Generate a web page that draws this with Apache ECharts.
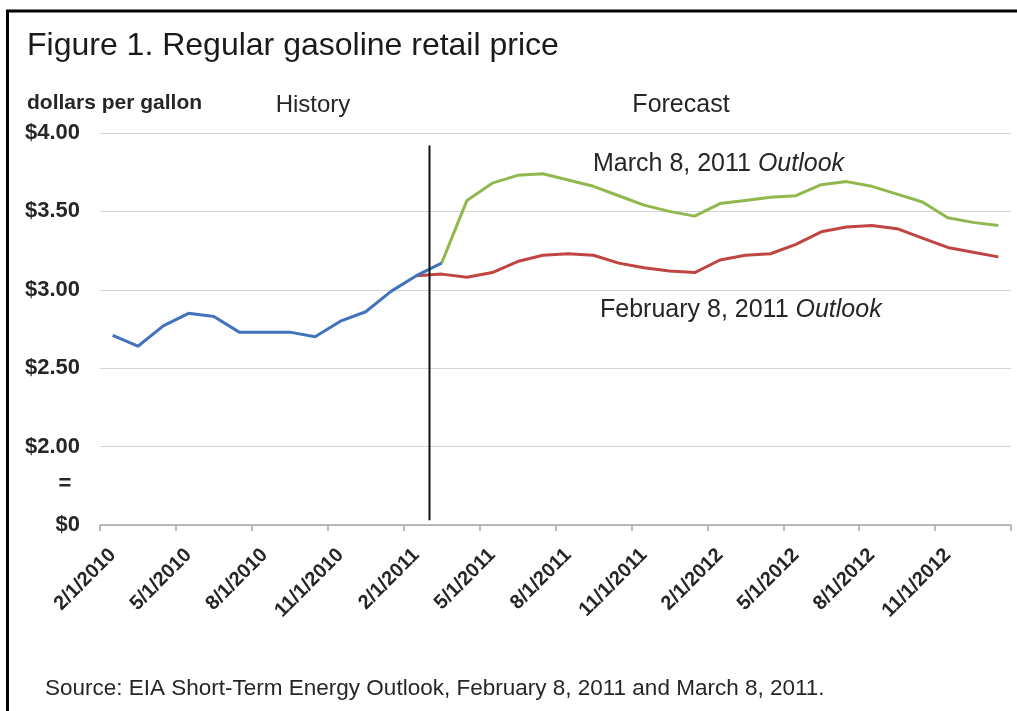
<!DOCTYPE html>
<html>
<head>
<meta charset="utf-8">
<script src="https://cdn.jsdelivr.net/npm/echarts@6/dist/echarts.min.js"></script>
<style>
html,body{margin:0;padding:0;background:#fff;}
#chart{width:1017px;height:711px;}
</style>
</head>
<body>
<div id="chart"></div>
<script>
// Monthly categories (Feb 2010 – Jan 2013)
const months = [
  "2/1/2010","3/1/2010","4/1/2010","5/1/2010","6/1/2010","7/1/2010","8/1/2010","9/1/2010","10/1/2010","11/1/2010","12/1/2010","1/1/2011",
  "2/1/2011","3/1/2011","4/1/2011","5/1/2011","6/1/2011","7/1/2011","8/1/2011","9/1/2011","10/1/2011","11/1/2011","12/1/2011","1/1/2012",
  "2/1/2012","3/1/2012","4/1/2012","5/1/2012","6/1/2012","7/1/2012","8/1/2012","9/1/2012","10/1/2012","11/1/2012","12/1/2012","1/1/2013"
];
// History (blue), starts at 2/1/2010
const history = [2.71, 2.64, 2.77, 2.85, 2.83, 2.73, 2.73, 2.73, 2.70, 2.80, 2.86, 2.99, 3.09, 3.17];
// February 8, 2011 Outlook (red), starts at 2/1/2011
const febOutlookStart = "2/1/2011";
const febOutlook = [3.09, 3.10, 3.08, 3.11, 3.18, 3.22, 3.23, 3.22, 3.17, 3.14, 3.12, 3.11,
                    3.19, 3.22, 3.23, 3.29, 3.37, 3.40, 3.41, 3.39, 3.33, 3.27, 3.24, 3.21];
// March 8, 2011 Outlook (green), starts at 3/1/2011
const marOutlookStart = "3/1/2011";
const marOutlook = [3.17, 3.57, 3.68, 3.73, 3.74, 3.70, 3.66, 3.60, 3.54, 3.50, 3.47,
                    3.55, 3.57, 3.59, 3.60, 3.67, 3.69, 3.66, 3.61, 3.56, 3.46, 3.43, 3.41];
// Y axis (broken axis: bottom position stands for $0)
const yMin = 1.5, yMax = 4.0, yStep = 0.5;
const yZeroLabel = "$0";
// Forecast divider sits between these two months
const dividerBetween = ["2/1/2011", "3/1/2011"];

function pad(startLabel, arr) {
  const s = months.indexOf(startLabel);
  return months.map((m, i) => (i >= s && i - s < arr.length) ? arr[i - s] : null);
}

const FONT = '"Liberation Sans", Arial, Helvetica, sans-serif';
const chart = echarts.init(document.getElementById('chart'), null, {renderer: 'canvas'});

const option = {
  backgroundColor: '#ffffff',
  animation: false,
  grid: {left: 100, right: 6, top: 133, bottom: 186, containLabel: false},
  xAxis: {
    type: 'category',
    data: months,
    boundaryGap: true,
    axisLine: {show: true, lineStyle: {color: '#a6a6a6', width: 1.5}},
    axisTick: {show: true, interval: 2, length: 6, lineStyle: {color: '#a6a6a6', width: 1.5}},
    axisLabel: {
      interval: 2, rotate: 45, margin: 27,
      fontFamily: FONT, fontSize: 20, fontWeight: 'bold', color: '#262626'
    },
    splitLine: {show: false}
  },
  yAxis: {
    type: 'value',
    min: yMin, max: yMax, interval: yStep,
    axisLine: {show: false},
    axisTick: {show: false},
    axisLabel: {
      margin: 20,
      fontFamily: FONT, fontSize: 22, fontWeight: 'bold', color: '#262626',
      formatter: v => (Math.abs(v - yMin) < 1e-9 ? yZeroLabel : '$' + v.toFixed(2))
    },
    splitLine: {show: true, lineStyle: {color: '#d4d4d4', width: 1.2}}
  },
  series: [
    {
      name: 'February 8, 2011 Outlook', type: 'line', data: pad(febOutlookStart, febOutlook),
      symbol: 'none', connectNulls: false,
      lineStyle: {color: '#c0443f', width: 3}, z: 2
    },
    {
      name: 'March 8, 2011 Outlook', type: 'line', data: pad(marOutlookStart, marOutlook),
      symbol: 'none', connectNulls: false,
      lineStyle: {color: '#92b74e', width: 3}, z: 3
    },
    {
      name: 'History', type: 'line', data: pad(months[0], history),
      symbol: 'none', connectNulls: false,
      lineStyle: {color: '#4272bd', width: 3}, z: 4
    }
  ]
};
chart.setOption(option);

// Divider line between history and forecast, positioned through the axis scales
const xa = chart.convertToPixel({xAxisIndex: 0}, dividerBetween[0]);
const xb = chart.convertToPixel({xAxisIndex: 0}, dividerBetween[1]);
const xd = Math.round((xa + xb) / 2) + 0.5;
const yTop = chart.convertToPixel({yAxisIndex: 0}, 3.92);
const yBot = chart.convertToPixel({yAxisIndex: 0}, 1.53);

chart.setOption({
  graphic: [
    {type: 'rect', shape: {x: 7.5, y: 11, width: 1200, height: 1000},
     style: {fill: 'none', stroke: '#000', lineWidth: 3}, z: 100, silent: true},
    {type: 'line', shape: {x1: xd, y1: yTop, x2: xd, y2: yBot},
     style: {stroke: '#111', lineWidth: 2}, z: 50},
    {type: 'text', x: 27, y: 46,
     style: {text: 'Figure 1. Regular gasoline retail price', font: '32px ' + FONT, fill: '#1a1a1a',
             textAlign: 'left', textVerticalAlign: 'middle'}},
    {type: 'text', x: 27, y: 103,
     style: {text: 'dollars per gallon', font: 'bold 21px ' + FONT, fill: '#262626',
             textAlign: 'left', textVerticalAlign: 'middle'}},
    {type: 'text', x: 313, y: 105,
     style: {text: 'History', font: '24px ' + FONT, fill: '#262626',
             textAlign: 'center', textVerticalAlign: 'middle'}},
    {type: 'text', x: 681, y: 105,
     style: {text: 'Forecast', font: '25px ' + FONT, fill: '#262626',
             textAlign: 'center', textVerticalAlign: 'middle'}},
    {type: 'text', x: 593, y: 164,
     style: {text: '{n|March 8, 2011 }{i|Outlook}', textAlign: 'left', textVerticalAlign: 'middle',
             rich: {n: {font: '25px ' + FONT, fill: '#262626'},
                    i: {font: 'italic 25px ' + FONT, fill: '#262626'}}}},
    {type: 'text', x: 600, y: 310,
     style: {text: '{n|February 8, 2011 }{i|Outlook}', textAlign: 'left', textVerticalAlign: 'middle',
             rich: {n: {font: '25px ' + FONT, fill: '#262626'},
                    i: {font: 'italic 25px ' + FONT, fill: '#262626'}}}},
    {type: 'text', x: 65, y: 484,
     style: {text: '=', font: 'bold 22px ' + FONT, fill: '#262626',
             textAlign: 'center', textVerticalAlign: 'middle'}},
    {type: 'text', x: 45, y: 689,
     style: {text: 'Source: EIA Short-Term Energy Outlook, February 8, 2011 and March 8, 2011.',
             font: '22.5px ' + FONT, fill: '#262626', textAlign: 'left', textVerticalAlign: 'middle'}}
  ]
});
</script>
</body>
</html>
